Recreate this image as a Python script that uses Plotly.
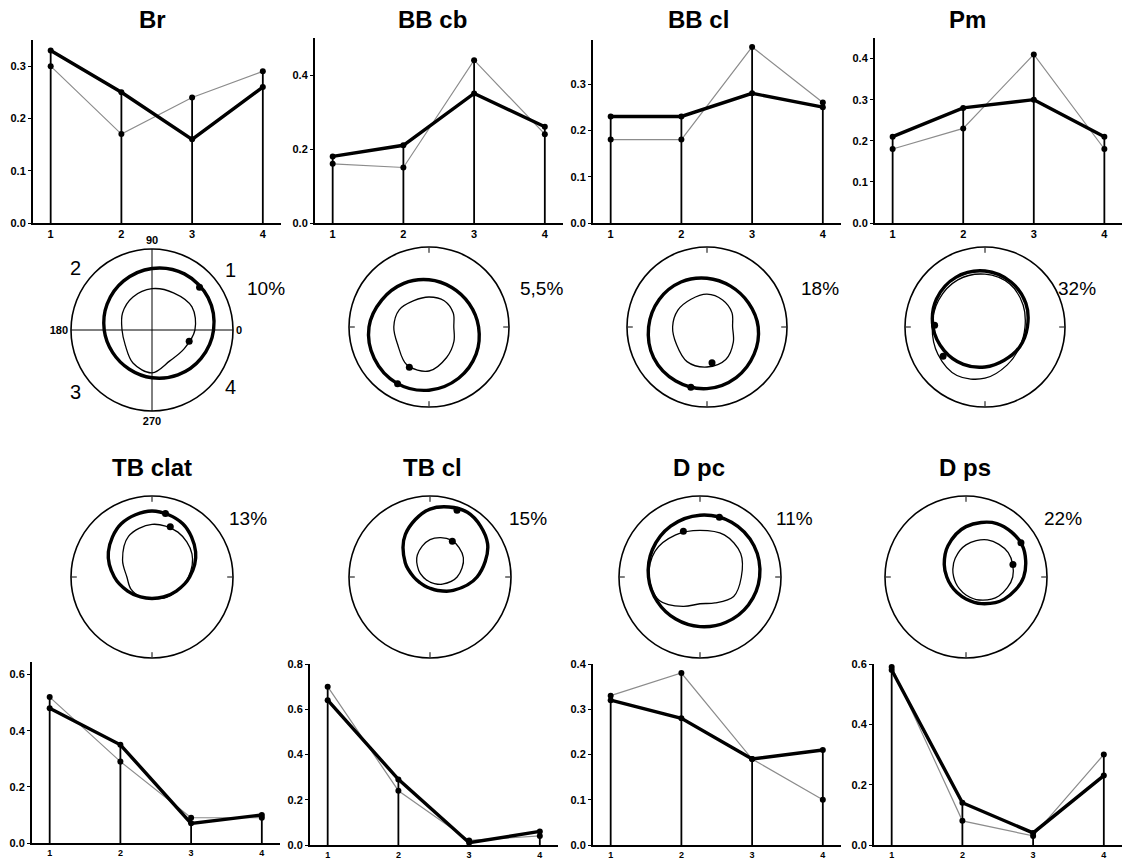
import plotly.graph_objects as go

W, H = 1122, 863

# ---------------- data ----------------
PHASES = [1, 2, 3, 4]
THETA = [0, 30, 60, 90, 120, 150, 180, 210, 240, 270, 300, 330]

TITLES = ["Br", "BB cb", "BB cl", "Pm", "TB clat", "TB cl", "D pc", "D ps"]
PERCENTS = ["10%", "5,5%", "18%", "32%", "13%", "15%", "11%", "22%"]

BR_THICK = [0.33, 0.25, 0.16, 0.26]
BR_THIN = [0.30, 0.17, 0.24, 0.29]
BBCB_THICK = [0.18, 0.21, 0.35, 0.26]
BBCB_THIN = [0.16, 0.15, 0.44, 0.24]
BBCL_THICK = [0.23, 0.23, 0.28, 0.25]
BBCL_THIN = [0.18, 0.18, 0.38, 0.26]
PM_THICK = [0.21, 0.28, 0.30, 0.21]
PM_THIN = [0.18, 0.23, 0.41, 0.18]
TBCLAT_THICK = [0.48, 0.35, 0.07, 0.10]
TBCLAT_THIN = [0.52, 0.29, 0.09, 0.09]
TBCL_THICK = [0.64, 0.29, 0.01, 0.06]
TBCL_THIN = [0.70, 0.24, 0.02, 0.04]
DPC_THICK = [0.32, 0.28, 0.19, 0.21]
DPC_THIN = [0.33, 0.38, 0.19, 0.10]
DPS_THICK = [0.58, 0.14, 0.04, 0.23]
DPS_THIN = [0.59, 0.08, 0.03, 0.30]

Y_TICKS = [
    [0.0, 0.1, 0.2, 0.3],
    [0.0, 0.2, 0.4],
    [0.0, 0.1, 0.2, 0.3],
    [0.0, 0.1, 0.2, 0.3, 0.4],
    [0.0, 0.2, 0.4, 0.6],
    [0.0, 0.2, 0.4, 0.6, 0.8],
    [0.0, 0.1, 0.2, 0.3, 0.4],
    [0.0, 0.2, 0.4, 0.6],
]
Y_MAX = [0.35, 0.5, 0.395, 0.45, 0.645, 0.8, 0.4, 0.6]

# polar curves (radius relative to outer circle, at THETA)
BR_P_THICK = [0.76, 0.80, 0.80, 0.76, 0.70, 0.64, 0.59, 0.56, 0.56, 0.59, 0.64, 0.70]
BR_P_THIN = [0.53, 0.57, 0.53, 0.51, 0.47, 0.42, 0.37, 0.38, 0.47, 0.53, 0.44, 0.46]
BBCB_P_THICK = [0.62, 0.58, 0.57, 0.59, 0.63, 0.68, 0.75, 0.79, 0.81, 0.79, 0.74, 0.68]
BBCB_P_THIN = [0.31, 0.35, 0.38, 0.375, 0.38, 0.43, 0.44, 0.45, 0.55, 0.55, 0.44, 0.36]
BBCL_P_THICK = [0.64, 0.60, 0.59, 0.61, 0.65, 0.69, 0.73, 0.77, 0.78, 0.77, 0.73, 0.68]
BBCL_P_THIN = [0.32, 0.36, 0.39, 0.41, 0.40, 0.42, 0.43, 0.44, 0.50, 0.50, 0.47, 0.38]
PM_P_THICK = [0.53, 0.59, 0.65, 0.70, 0.72, 0.70, 0.65, 0.59, 0.54, 0.50, 0.48, 0.50]
PM_P_THIN = [0.50, 0.55, 0.62, 0.66, 0.68, 0.67, 0.66, 0.68, 0.70, 0.64, 0.55, 0.50]
TBCLAT_P_THICK = [0.465, 0.622, 0.760, 0.815, 0.760, 0.622, 0.465, 0.347, 0.284, 0.265, 0.284, 0.347]
TBCLAT_P_THIN = [0.45, 0.57, 0.64, 0.65, 0.58, 0.42, 0.31, 0.30, 0.28, 0.26, 0.30, 0.35]
TBCL_P_THICK = [0.581, 0.821, 0.923, 0.839, 0.608, 0.353, 0.201, 0.142, 0.127, 0.139, 0.192, 0.332]
TBCL_P_THIN = [0.335, 0.476, 0.526, 0.462, 0.313, 0.161, 0.085, 0.06, 0.054, 0.062, 0.091, 0.177]
DPC_P_THICK = [0.736, 0.77, 0.78, 0.763, 0.725, 0.678, 0.636, 0.608, 0.60, 0.613, 0.645, 0.69]
DPC_P_THIN = [0.51, 0.58, 0.60, 0.575, 0.60, 0.64, 0.63, 0.58, 0.42, 0.33, 0.37, 0.48]
DPS_P_THICK = [0.712, 0.798, 0.762, 0.622, 0.445, 0.31, 0.237, 0.212, 0.222, 0.272, 0.38, 0.546]
DPS_P_THIN = [0.577, 0.602, 0.53, 0.396, 0.267, 0.188, 0.152, 0.146, 0.166, 0.222, 0.328, 0.468]

# marked points on the polar curves: (theta, r)
BR_P_DOTS = [(42, 0.79), (343, 0.48)]
BBCB_P_DOTS = [(241, 0.81), (244, 0.56)]
BBCL_P_DOTS = [(255, 0.78), (278, 0.45)]
PM_P_DOTS = [(178, 0.63), (215, 0.64)]
TBCLAT_P_DOTS = [(78, 0.80), (70, 0.66)]
TBCL_P_DOTS = [(68, 0.89), (58, 0.52)]
DPC_P_DOTS = [(72, 0.775), (110, 0.60)]
DPS_P_DOTS = [(32, 0.80), (15, 0.60)]

LINE_DATA = [
    (BR_THICK, BR_THIN), (BBCB_THICK, BBCB_THIN), (BBCL_THICK, BBCL_THIN), (PM_THICK, PM_THIN),
    (TBCLAT_THICK, TBCLAT_THIN), (TBCL_THICK, TBCL_THIN), (DPC_THICK, DPC_THIN), (DPS_THICK, DPS_THIN),
]
POLAR_DATA = [
    (BR_P_THICK, BR_P_THIN, BR_P_DOTS), (BBCB_P_THICK, BBCB_P_THIN, BBCB_P_DOTS),
    (BBCL_P_THICK, BBCL_P_THIN, BBCL_P_DOTS), (PM_P_THICK, PM_P_THIN, PM_P_DOTS),
    (TBCLAT_P_THICK, TBCLAT_P_THIN, TBCLAT_P_DOTS), (TBCL_P_THICK, TBCL_P_THIN, TBCL_P_DOTS),
    (DPC_P_THICK, DPC_P_THIN, DPC_P_DOTS), (DPS_P_THICK, DPS_P_THIN, DPS_P_DOTS),
]

# ---------------- layout geometry (pixels) ----------------
LINE_POS = [
    (33, 223, 40), (315, 223, 38), (593, 223, 40), (875, 223, 38),
    (32, 843, 662), (310, 845, 664), (593, 845, 664), (874, 845, 664),
]
X_RANGE = [0.75, 4.25]
X_WIDTH = 247.5
POLAR_POS = [
    (152, 330, 81), (429, 327, 80), (707, 327, 80), (985, 327, 80),
    (152, 577, 81), (430, 577, 81), (700, 577, 81), (966, 577, 81),
]
TITLE_POS = [(152, 19), (432, 19), (698, 19), (967, 19), (152, 467), (432, 467), (699, 467), (965, 467)]
PCT_POS = [(266, 288), (541, 288), (820, 288), (1077, 288), (248, 518), (528, 518), (795, 518), (1063, 518)]
FONT = "Liberation Sans, Arial, sans-serif"


def fx(px):
    return px / W


def fy(py):
    return 1 - py / H


fig = go.Figure()
layout = dict(
    template="none",
    width=W, height=H, margin=dict(l=0, r=0, t=0, b=0),
    paper_bgcolor="white", plot_bgcolor="white", showlegend=False,
    font=dict(family=FONT, color="black"),
)
annotations = []

for i, ((thick, thin), (ax_x, ax_y, top)) in enumerate(zip(LINE_DATA, LINE_POS)):
    n = "" if i == 0 else str(i + 1)
    xa, ya = "x" + n, "y" + n
    xfont = 11 if i < 4 else 9
    layout["xaxis" + n] = dict(
        domain=[fx(ax_x), min(1, fx(ax_x + X_WIDTH))], range=X_RANGE, anchor=ya,
        showline=True, linecolor="black", linewidth=2, showgrid=False, zeroline=False,
        tickvals=PHASES, ticktext=["<b>%d</b>" % p for p in PHASES], ticks="",
        tickfont=dict(size=xfont, family=FONT, color="black"), fixedrange=True,
    )
    layout["yaxis" + n] = dict(
        domain=[fy(ax_y), fy(top)], range=[0, Y_MAX[i]], anchor=xa,
        showline=True, linecolor="black", linewidth=2, showgrid=False, zeroline=False,
        tickvals=Y_TICKS[i], ticktext=["<b>%.1f</b>" % v for v in Y_TICKS[i]],
        ticks="outside", ticklen=3, tickwidth=1, tickcolor="black",
        tickfont=dict(size=11, family=FONT, color="black"), fixedrange=True,
    )
    dx, dy = [], []
    for p, a, b in zip(PHASES, thick, thin):
        dx += [p, p, None]
        dy += [0, max(a, b), None]
    fig.add_trace(go.Scatter(x=dx, y=dy, mode="lines", xaxis=xa, yaxis=ya,
                             line=dict(color="black", width=1.8), hoverinfo="skip"))
    fig.add_trace(go.Scatter(x=PHASES, y=thin, mode="lines+markers", xaxis=xa, yaxis=ya,
                             line=dict(color="#8c8c8c", width=1.2),
                             marker=dict(color="black", size=6)))
    fig.add_trace(go.Scatter(x=PHASES, y=thick, mode="lines+markers", xaxis=xa, yaxis=ya,
                             line=dict(color="black", width=3.4),
                             marker=dict(color="black", size=6)))

for i, ((thick, thin, dots), (cx, cy, R)) in enumerate(zip(POLAR_DATA, POLAR_POS)):
    n = "" if i == 0 else str(i + 1)
    pid = "polar" + n
    is_br = i == 0
    layout[pid] = dict(
        domain=dict(x=[fx(cx - R), fx(cx + R)], y=[fy(cy + R), fy(cy - R)]),
        bgcolor="white",
        radialaxis=dict(range=[0, 1], visible=False, showgrid=False),
        angularaxis=dict(
            rotation=0, direction="counterclockwise",
            showline=True, linecolor="black", linewidth=1.6,
            tickvals=[0, 90, 180, 270],
            ticktext=["<b>0</b>", "<b>90</b>", "<b>180</b>", "<b>270</b>"],
            showticklabels=is_br,
            tickfont=dict(size=11, family=FONT, color="black"),
            ticks="" if is_br else "inside", ticklen=5, tickwidth=1.3, tickcolor="black",
            showgrid=is_br, gridcolor="black", gridwidth=1.4,
        ),
    )
    th = THETA + [THETA[0]]
    fig.add_trace(go.Scatterpolar(theta=th, r=thin + [thin[0]], mode="lines", subplot=pid,
                                  line=dict(color="black", width=1.3, shape="spline", smoothing=1.0)))
    fig.add_trace(go.Scatterpolar(theta=th, r=thick + [thick[0]], mode="lines", subplot=pid,
                                  line=dict(color="black", width=3.4, shape="spline", smoothing=1.0)))
    fig.add_trace(go.Scatterpolar(theta=[d[0] for d in dots], r=[d[1] for d in dots], mode="markers",
                                  subplot=pid, marker=dict(color="black", size=7)))

for t, (x, y) in zip(TITLES, TITLE_POS):
    annotations.append(dict(text="<b>%s</b>" % t, x=fx(x), y=fy(y), xref="paper", yref="paper",
                            showarrow=False, font=dict(size=24, family=FONT, color="black"),
                            xanchor="center", yanchor="middle"))
for t, (x, y) in zip(PERCENTS, PCT_POS):
    annotations.append(dict(text=t, x=fx(x), y=fy(y), xref="paper", yref="paper",
                            showarrow=False, font=dict(size=19, family=FONT, color="black"),
                            xanchor="center", yanchor="middle"))
QUAD_LABELS = ["1", "2", "3", "4"]
QUAD_POS = [(230, 270), (75, 268), (75, 392), (230, 387)]
for t, (x, y) in zip(QUAD_LABELS, QUAD_POS):
    annotations.append(dict(text=t, x=fx(x), y=fy(y), xref="paper", yref="paper",
                            showarrow=False, font=dict(size=20, family=FONT, color="black"),
                            xanchor="center", yanchor="middle"))

layout["annotations"] = annotations
fig.update_layout(**layout)
fig.write_html("out.html")
